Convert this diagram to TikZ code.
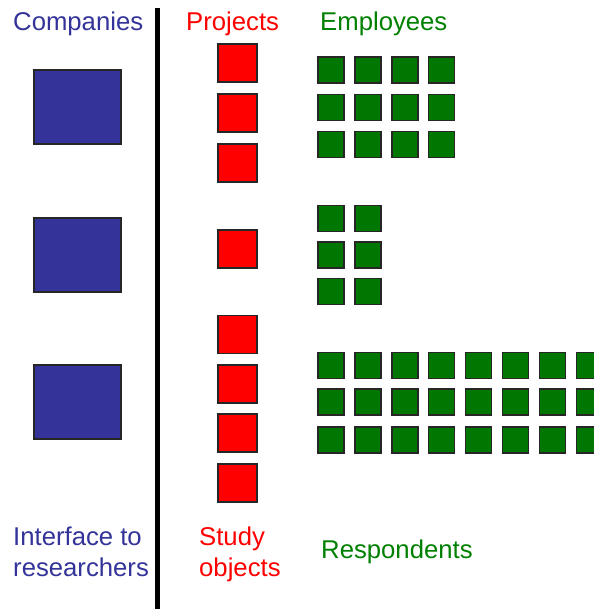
\documentclass[tikz,border=0pt]{standalone}
\usepackage{fontspec}
\setmainfont{Liberation Sans}
\definecolor{coblue}{HTML}{333399}
\definecolor{cored}{HTML}{FF0000}
\definecolor{cogreen}{HTML}{007700}
\definecolor{cogreentext}{HTML}{008000}
\begin{document}
\begin{tikzpicture}[x=1pt,y=-1pt,
  box/.style={draw=black!85,line width=1.5pt,inner sep=0pt,outer sep=0pt},
  company/.style={box,fill=coblue,minimum width=87pt,minimum height=74pt},
  project/.style={box,fill=cored,minimum width=39pt,minimum height=38pt},
  employee/.style={box,fill=cogreen,minimum width=26pt,minimum height=26pt},
  label/.style={inner sep=0pt,anchor=base west,font=\fontsize{25.7}{31}\selectfont,align=left}]
  \useasboundingbox (0,0) rectangle (593,609);

  % dividing bar
  \coordinate (bartop) at (157.5,8);
  \coordinate (barbot) at (157.5,609);
  \draw[line width=5pt] (bartop) -- (barbot);

  % column headings
  \node[label,text=coblue] (hcomp) at (13,31) {Companies};
  \node[label,text=cored] (hproj) at (186,31) {Projects};
  \node[label,text=cogreentext] (hemp) at (320,31) {Employees};

  % companies
  \node[company] (c1) at (77.5,107) {};
  \node[company] (c2) at (77.5,255) {};
  \node[company] (c3) at (77.5,402) {};

  % projects
  \node[project] (p1) at (237.5,63) {};
  \node[project] (p2) at (237.5,113) {};
  \node[project] (p3) at (237.5,163) {};
  \node[project] (p4) at (237.5,249) {};
  \node[project] (p5) at (237.5,334.5) {};
  \node[project] (p6) at (237.5,384) {};
  \node[project] (p7) at (237.5,433) {};
  \node[project] (p8) at (237.5,483) {};

  % employees of the first company
  \foreach \r/\y in {1/70,2/107.5,3/144.5}
    \foreach \c in {1,...,4}
      \node[employee] (ea-\r-\c) at ({331+36.9*(\c-1)},\y) {};
  % employees of the second company
  \foreach \r/\y in {1/218.5,2/255,3/291.5}
    \foreach \c in {1,2}
      \node[employee] (eb-\r-\c) at ({331+36.9*(\c-1)},\y) {};
  % employees of the third company
  \foreach \r/\y in {1/365.5,2/402,3/440}
    \foreach \c in {1,...,8}
      \node[employee] (ec-\r-\c) at ({331+36.9*(\c-1)},\y) {};

  % footers (base anchor sits on the last line)
  \node[label,text=coblue] (fcomp) at (13,576) {Interface to\\researchers};
  \node[label,text=cored] (fproj) at (199,576) {Study\\objects};
  \node[label,text=cogreentext] (femp) at (321,558) {Respondents};
\end{tikzpicture}
\end{document}
